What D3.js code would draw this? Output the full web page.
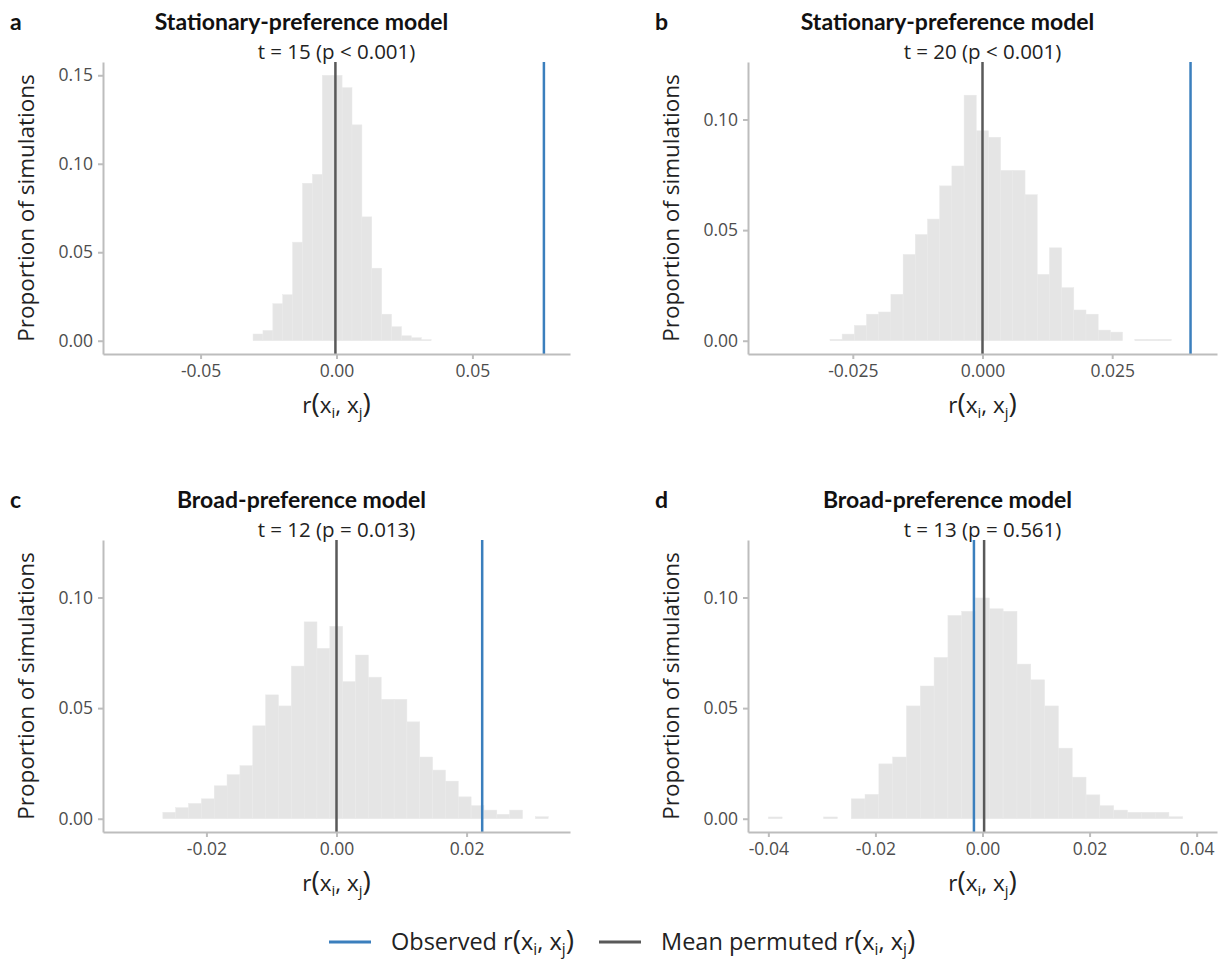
<!DOCTYPE html>
<html>
<head>
<meta charset="utf-8">
<script src="https://cdn.jsdelivr.net/npm/d3@7"></script>
<style>
	body { margin: 0; background: #fff; }
	svg { font-family: 'Open Sans', Lato, sans-serif; }
	.axis path, .axis line { stroke: #bdbdbd; stroke-width: 2; }
	.axis text { fill: #4d4d4d; font-size: 17.5px; font-family: 'Open Sans', Lato, sans-serif; }
	.bar { fill: #e5e5e5; stroke: #eaeaea; stroke-width: 0.5; }
	.title { font-family: Lato, sans-serif; font-size: 23px; font-weight: 700; fill: #111; text-anchor: middle; }
	.tag { font-family: Lato, sans-serif; font-size: 23px; font-weight: 700; fill: #111; }
	.subtitle { font-size: 20.5px; fill: #222; text-anchor: middle; }
	.axis-title { font-size: 22.5px; fill: #222; text-anchor: middle; }
	.legend-text { font-size: 23.5px; fill: #222; }
</style>
</head>
<body>
<svg width="1222" height="960"></svg>
<script>
const panelLabels = ['a', 'b', 'c', 'd'];
const panelTitles = ['Stationary-preference model', 'Stationary-preference model', 'Broad-preference model', 'Broad-preference model'];
const panelSubtitles = ['t = 15 (p < 0.001)', 't = 20 (p < 0.001)', 't = 12 (p = 0.013)', 't = 13 (p = 0.561)'];

// histogram bins: first left edge and width, in r units
const binStart = [-0.0307, -0.0294, -0.0267, -0.0400];
const binWidth = [0.00364, 0.00235, 0.001975, 0.00258];

// proportion of simulations per bin
const propsA = [0.0038, 0.0058, 0.0209, 0.026, 0.0557, 0.089, 0.094, 0.150, 0.150, 0.143, 0.122, 0.070, 0.041, 0.015, 0.0079, 0.0028, 0.0017, 0.0006];
const propsB = [0.0006, 0.003, 0.0069, 0.012, 0.013, 0.021, 0.039, 0.048, 0.055, 0.070, 0.079, 0.111, 0.0949, 0.092, 0.077, 0.077, 0.066, 0.030, 0.042, 0.024, 0.0139, 0.012, 0.0048, 0.0039, 0, 0.0006, 0.0006, 0.0006];
const propsC = [0.0029, 0.005, 0.0069, 0.009, 0.0149, 0.0199, 0.024, 0.042, 0.056, 0.051, 0.069, 0.089, 0.077, 0.087, 0.062, 0.074, 0.064, 0.054, 0.054, 0.0438, 0.0279, 0.022, 0.017, 0.0099, 0.0059, 0.0039, 0.002, 0.0039, 0, 0.0009];
const propsD = [0.0008, 0, 0, 0, 0.0008, 0, 0.009, 0.011, 0.0248, 0.0279, 0.051, 0.060, 0.0729, 0.0919, 0.0938, 0.0998, 0.0949, 0.0938, 0.0699, 0.0628, 0.051, 0.0319, 0.0188, 0.0108, 0.0059, 0.0039, 0.0029, 0.0029, 0.0029, 0.0009];
const props = [propsA, propsB, propsC, propsD];

const observedR = [0.0763, 0.0401, 0.0224, -0.0016];
const meanPermutedR = [-0.0004, 0.0000, 0.0000, 0.0003];

// symmetric x limits and y maxima of each panel
const xHalfRange = [0.0859, 0.0452, 0.0359, 0.0438];
const yMax = [0.15, 0.12, 0.12, 0.12];

const xTicks = [[-0.05, 0, 0.05], [-0.025, 0, 0.025], [-0.02, 0, 0.02], [-0.04, -0.02, 0, 0.02, 0.04]];
const xDigits = [2, 3, 2, 2];
const yTicks = [[0, 0.05, 0.10, 0.15], [0, 0.05, 0.10], [0, 0.05, 0.10], [0, 0.05, 0.10]];

const legendLabels = ['Observed', 'Mean permuted'];

const colors = { observed: '#3b7fbd', mean: '#595959' };

const svg = d3.select('svg');

const cols = [{ left: 103, right: 570 }, { left: 748, right: 1217 }];
const rows = [{ top: 62, bottom: 354 }, { top: 540, bottom: 832 }];

// r(x_i, x_j) with subscripts
function rLabel(sel, parenSize) {
	sel.append('tspan').text('r');
	sel.append('tspan').text('(').attr('font-size', parenSize);
	sel.append('tspan').text('x');
	sel.append('tspan').text('i').attr('font-size', '0.66em').attr('dy', 5);
	sel.append('tspan').text(', x').attr('dy', -5);
	sel.append('tspan').text('j').attr('font-size', '0.66em').attr('dy', 5);
	sel.append('tspan').text(')').attr('font-size', parenSize).attr('dy', -5);
}

function drawPanel(i) {
	const col = cols[i % 2];
	const row = rows[Math.floor(i / 2)];

	const x = d3.scaleLinear()
		.domain([-xHalfRange[i], xHalfRange[i]])
		.range([col.left, col.right]);

	const y = d3.scaleLinear()
		.domain([-0.05 * yMax[i], 1.05 * yMax[i]])
		.range([row.bottom, row.top]);

	const g = svg.append('g').attr('class', 'panel');

	const bins = props[i].map((p, k) => ({
		x0: binStart[i] + k * binWidth[i],
		x1: binStart[i] + (k + 1) * binWidth[i],
		p
	})).filter((d) => d.p > 0);

	g.selectAll('.bar')
		.data(bins)
		.enter()
		.append('rect')
		.attr('class', 'bar')
		.attr('x', (d) => x(d.x0))
		.attr('width', (d) => x(d.x1) - x(d.x0))
		.attr('y', (d) => y(d.p))
		.attr('height', (d) => y(0) - y(d.p));

	g.append('line')
		.attr('x1', x(observedR[i])).attr('x2', x(observedR[i]))
		.attr('y1', row.top).attr('y2', row.bottom)
		.attr('stroke', colors.observed)
		.attr('stroke-width', 2.5);

	g.append('line')
		.attr('x1', x(meanPermutedR[i])).attr('x2', x(meanPermutedR[i]))
		.attr('y1', row.top).attr('y2', row.bottom)
		.attr('stroke', colors.mean)
		.attr('stroke-width', 2.5);

	g.append('g')
		.attr('class', 'axis')
		.attr('transform', `translate(0, ${row.bottom})`)
		.call(d3.axisBottom(x)
			.tickValues(xTicks[i])
			.tickSize(5)
			.tickSizeOuter(0)
			.tickPadding(6)
			.tickFormat((d) => d.toFixed(xDigits[i])));

	g.append('g')
		.attr('class', 'axis')
		.attr('transform', `translate(${col.left}, 0)`)
		.call(d3.axisLeft(y)
			.tickValues(yTicks[i])
			.tickSize(5)
			.tickSizeOuter(0)
			.tickPadding(5)
			.tickFormat((d) => d.toFixed(2)));

	const mid = (col.left + col.right) / 2;

	g.append('text')
		.attr('class', 'tag')
		.attr('x', col.left - 93)
		.attr('y', row.top - 32)
		.text(panelLabels[i]);

	g.append('text')
		.attr('class', 'title')
		.attr('x', mid - 35)
		.attr('y', row.top - 32)
		.text(panelTitles[i]);

	g.append('text')
		.attr('class', 'subtitle')
		.attr('x', mid)
		.attr('y', row.top - 3)
		.text(panelSubtitles[i]);

	g.append('text')
		.attr('class', 'axis-title')
		.attr('transform', `translate(${col.left - 69}, ${(row.top + row.bottom) / 2}) rotate(-90)`)
		.text('Proportion of simulations');

	g.append('text')
		.attr('class', 'axis-title')
		.attr('x', mid)
		.attr('y', row.bottom + 59)
		.call(rLabel, '1.25em');
}

panelLabels.forEach((d, i) => drawPanel(i));

// legend
const legend = svg.append('g').attr('transform', 'translate(329, 942)');
const legendItems = [
	{ label: legendLabels[0], color: colors.observed, x: 0 },
	{ label: legendLabels[1], color: colors.mean, x: 270 }
];

legendItems.forEach((item) => {
	legend.append('line')
		.attr('x1', item.x).attr('x2', item.x + 42)
		.attr('stroke', item.color)
		.attr('stroke-width', 3);

	legend.append('text')
		.attr('class', 'legend-text')
		.attr('x', item.x + 62)
		.attr('y', 8)
		.call((sel) => {
			sel.append('tspan').text(item.label + ' ');
			rLabel(sel, '1.2em');
		});
});
</script>
</body>
</html>
